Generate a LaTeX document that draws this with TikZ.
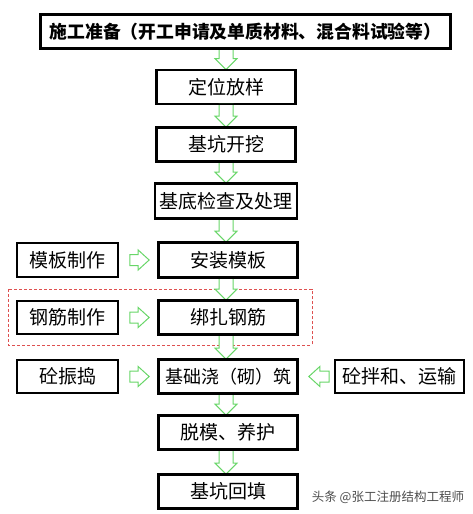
\documentclass[tikz,border=0pt]{standalone}
\usepackage{fontspec}
\newfontfamily\cjk{Noto Sans CJK SC}
\usetikzlibrary{positioning}
\definecolor{arrowgreen}{RGB}{104,214,104}
\definecolor{dashred}{RGB}{222,80,80}
\begin{document}
\begin{tikzpicture}[x=1pt, y=-1pt,
  box/.style={draw, line width=1.7pt, fill=white, minimum height=33pt, inner sep=0pt, font=\cjk\fontsize{19}{19}\selectfont},
  garrow/.style={draw=arrowgreen, line width=1pt, fill=white, line join=miter}]
\useasboundingbox (0,0) rectangle (472,514);
\node[box, minimum width=409pt, font=\cjk\bfseries\fontsize{17.8}{18}\selectfont] (prep) at (245.5, 31.5) {施工准备（开工申请及单质材料、混合料试验等）};
\node[box, minimum width=138pt] (loc) at (226, 87) {定位放样};
\node[box, minimum width=138pt] (dig) at (226, 144.5) {基坑开挖};
\node[box, minimum width=141pt, minimum height=34pt] (check) at (226, 201) {基底检查及处理};
\node[box, minimum width=138pt, minimum height=34pt] (form) at (228, 260) {安装模板};
\node[box, minimum width=101pt, minimum height=34pt] (formmk) at (67.5, 260) {模板制作};
\node[box, minimum width=138pt] (tie) at (228, 317.5) {绑扎钢筋};
\node[box, minimum width=101pt] (rebarmk) at (67.5, 317.5) {钢筋制作};
\node[box, minimum width=138pt, font=\cjk\fontsize{18}{19}\selectfont] (pour) at (228, 376.5) {基础浇（砌）筑};
\node[box, minimum width=101pt] (vib) at (67.5, 376.5) {砼振捣};
\node[box, minimum width=129pt] (mix) at (399.5, 376.5) {砼拌和、运输};
\node[box, minimum width=138pt] (cure) at (228, 432.5) {脱模、养护};
\node[box, minimum width=138pt] (fill) at (228, 491.5) {基坑回填};
% dashed frame round the rebar row
\draw[dashred, densely dashed, line width=0.5pt] ([shift={(-8pt,11pt)}]rebarmk.north west) rectangle ([shift={(14pt,-10pt)}]tie.south east);
% down arrows
\foreach \a/\b in {prep/loc, loc/dig, dig/check, check/form, form/tie, tie/pour, pour/cure, cure/fill}
  \draw[garrow] ([xshift=-7pt]\a.south-|loc.south) -- ([xshift=-7pt, yshift=11pt]\b.north-|loc.north) -- ([xshift=-11pt, yshift=11pt]\b.north-|loc.north) -- (\b.north-|loc.north) -- ([xshift=11pt, yshift=11pt]\b.north-|loc.north) -- ([xshift=7pt, yshift=11pt]\b.north-|loc.north) -- ([xshift=7pt]\a.south-|loc.south) -- cycle;
% side arrows, pointing right
\foreach \a/\b in {formmk/form, rebarmk/tie, vib/pour}
  \draw[garrow] ([xshift=11pt, yshift=5.5pt]\a.east) -- ([xshift=-20pt, yshift=5.5pt]\b.west) -- ([xshift=-20pt, yshift=10pt]\b.west) -- ([xshift=-9pt]\b.west) -- ([xshift=-20pt, yshift=-10pt]\b.west) -- ([xshift=-20pt, yshift=-5.5pt]\b.west) -- ([xshift=11pt, yshift=-5.5pt]\a.east) -- cycle;
% side arrow, pointing left
\draw[garrow] ([xshift=-5pt, yshift=5.5pt]mix.west) -- ([xshift=22pt, yshift=5.5pt]pour.east) -- ([xshift=22pt, yshift=10pt]pour.east) -- ([xshift=11pt]pour.east) -- ([xshift=22pt, yshift=-10pt]pour.east) -- ([xshift=22pt, yshift=-5.5pt]pour.east) -- ([xshift=-5pt, yshift=-5.5pt]mix.west) -- cycle;
% borders again, over the arrow ends
\foreach \n in {prep, loc, dig, check, form, tie, pour, cure, fill}
  \draw[line width=1.7pt] (\n.north west) rectangle (\n.south east);
\node[font=\cjk\fontsize{12.5}{13}\selectfont, text=black!70] (mark) at (388, 497) {头条 @张工注册结构工程师};
\end{tikzpicture}
\end{document}
